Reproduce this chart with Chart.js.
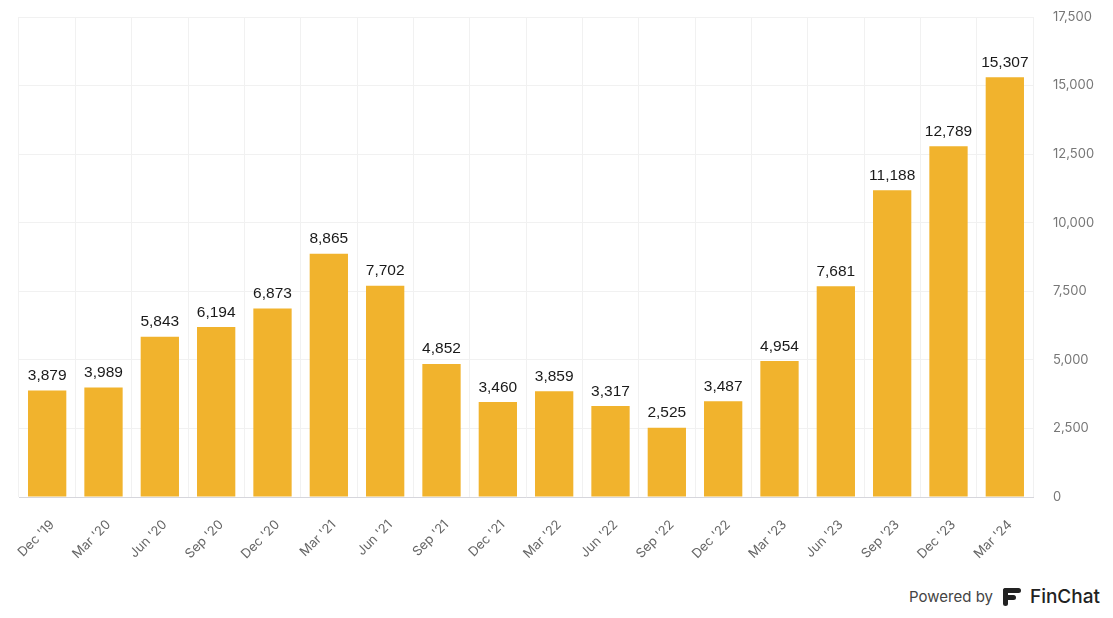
<!DOCTYPE html>
<html>
<head>
<meta charset="utf-8">
<script src="https://cdn.jsdelivr.net/npm/chart.js@4/dist/chart.umd.min.js"></script>
<style>
    html, body { margin: 0; padding: 0; background: #fff; }
    #wrap { position: relative; width: 1113px; height: 618px; }
    #chartBox { position: absolute; left: 0; top: 0; width: 1113px; height: 580px; }
    #footer {
        position: absolute; right: 13px; top: 585px;
        display: flex; align-items: center;
        font-family: Inter, "Noto Sans", sans-serif;
    }
    #footer .pw { font-size: 15px; color: #444; margin-right: 9px; }
    #footer .fc { font-size: 19px; color: #222; font-weight: 500; margin-left: 8px; }
</style>
</head>
<body>
<div id="wrap">
    <div id="chartBox"><canvas id="barChart"></canvas></div>
    <div id="footer">
        <span class="pw">Powered by</span>
        <svg width="20" height="20" viewBox="0 0 20 20">
            <rect x="1" y="1" width="18" height="5" rx="2.5" fill="#222"/>
            <rect x="1" y="8" width="13" height="5" rx="2.5" fill="#222"/>
            <rect x="1" y="1" width="5" height="18" rx="2.5" fill="#222"/>
        </svg>
        <span class="fc">FinChat</span>
    </div>
</div>
<script>
const quarters = ["Dec '19", "Mar '20", "Jun '20", "Sep '20", "Dec '20", "Mar '21", "Jun '21", "Sep '21",
    "Dec '21", "Mar '22", "Jun '22", "Sep '22", "Dec '22", "Mar '23", "Jun '23", "Sep '23", "Dec '23", "Mar '24"];
const values = [3879, 3989, 5843, 6194, 6873, 8865, 7702, 4852, 3460, 3859, 3317, 2525, 3487, 4954, 7681, 11188, 12789, 15307];
const yTicks = [0, 2500, 5000, 7500, 10000, 12500, 15000, 17500];

// draws the value above each bar
const valueLabels = {
    id: 'valueLabels',
    afterDatasetsDraw(chart) {
        const ctx = chart.ctx;
        const meta = chart.getDatasetMeta(0);
        ctx.save();
        ctx.font = '15.5px "Liberation Sans", Arial, sans-serif';
        ctx.fillStyle = '#1a1a1a';
        ctx.textAlign = 'center';
        ctx.textBaseline = 'bottom';
        meta.data.forEach((bar, i) => {
            ctx.fillText(values[i].toLocaleString('en-US'), bar.x, bar.y - 7);
        });
        ctx.restore();
    }
};

new Chart(document.getElementById('barChart').getContext('2d'), {
    type: 'bar',
    data: {
        labels: quarters,
        datasets: [{
            data: values,
            backgroundColor: '#F1B32D',
            barPercentage: 0.68,
            categoryPercentage: 1
        }]
    },
    options: {
        responsive: true,
        maintainAspectRatio: false,
        animation: false,
        layout: { padding: { left: 19, top: 17, right: 0, bottom: 0 } },
        plugins: {
            legend: { display: false },
            tooltip: { enabled: false }
        },
        scales: {
            x: {
                grid: { color: '#f1f1f1', drawTicks: false, offset: true },
                border: { color: '#d6d6dc' },
                ticks: {
                    minRotation: 45,
                    maxRotation: 45,
                    padding: 20,
                    labelOffset: 5,
                    color: '#666',
                    font: { family: 'Inter, "Noto Sans", sans-serif', size: 13 }
                },
                afterFit: axis => {
                    axis.height = 83;
                    axis.paddingLeft = 0;
                    axis.paddingRight = 0;
                }
            },
            y: {
                position: 'right',
                min: 0,
                max: 17500,
                afterBuildTicks: axis => { axis.ticks = yTicks.map(v => ({ value: v })); },
                grid: { color: '#f1f1f1', drawTicks: false },
                border: { display: false },
                ticks: {
                    padding: 20,
                    color: '#777',
                    font: { family: 'Inter, "Noto Sans", sans-serif', size: 13 },
                    callback: v => v.toLocaleString('en-US')
                },
                afterFit: axis => {
                    axis.width = 80;
                    axis.paddingTop = 0;
                    axis.paddingBottom = 0;
                }
            }
        }
    },
    plugins: [valueLabels]
});
</script>
</body>
</html>
